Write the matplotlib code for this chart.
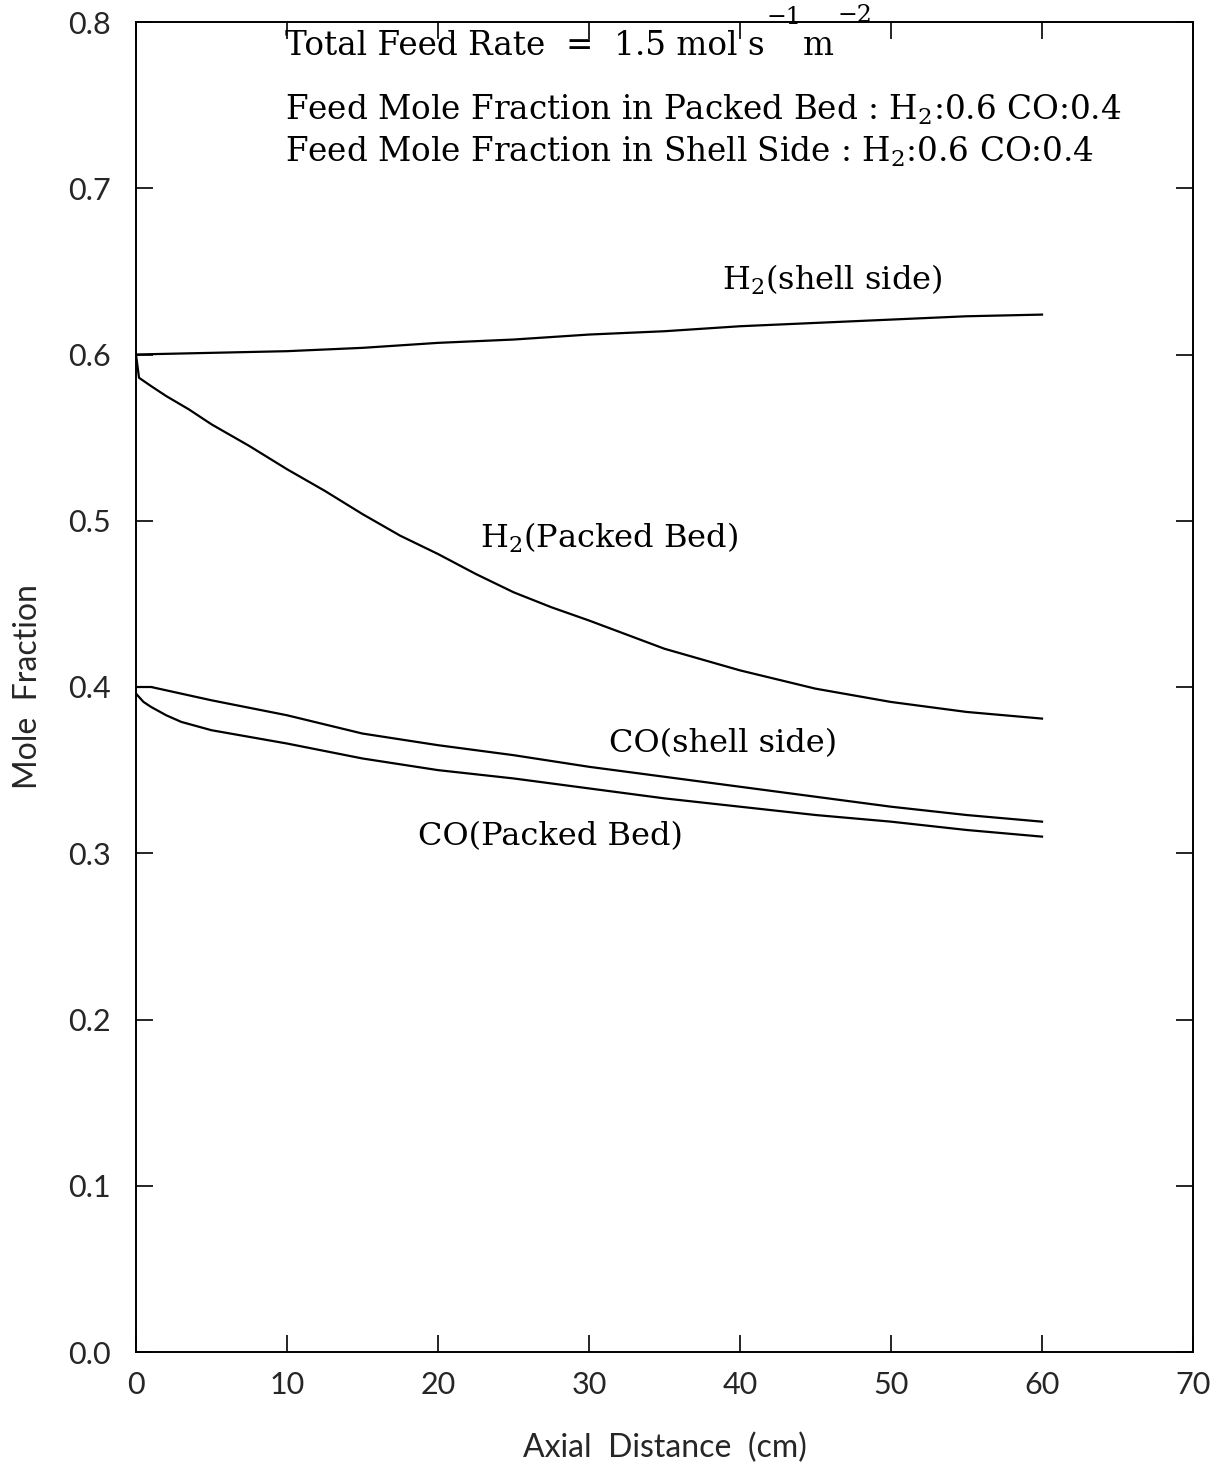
import matplotlib
matplotlib.use("Agg")
import matplotlib.pyplot as plt

# ---- data (axial distance in cm, mole fraction) ----
h2_shell_x = [0, 5, 10, 15, 20, 25, 30, 35, 40, 45, 50, 55, 60]
h2_shell_y = [0.600, 0.601, 0.602, 0.604, 0.607, 0.609, 0.612, 0.614,
              0.617, 0.619, 0.621, 0.623, 0.624]

h2_bed_x = [0, 0.2, 1, 2, 3.5, 5, 7.5, 10, 12.5, 15, 17.5, 20, 22.5, 25,
            27.5, 30, 35, 40, 45, 50, 55, 60]
h2_bed_y = [0.600, 0.586, 0.581, 0.575, 0.567, 0.558, 0.545, 0.531, 0.518,
            0.504, 0.491, 0.480, 0.468, 0.457, 0.448, 0.440, 0.423, 0.410,
            0.399, 0.391, 0.385, 0.381]

co_shell_x = [0, 1, 5, 10, 15, 20, 25, 30, 35, 40, 45, 50, 55, 60]
co_shell_y = [0.400, 0.400, 0.392, 0.383, 0.372, 0.365, 0.359, 0.352,
              0.346, 0.340, 0.334, 0.328, 0.323, 0.319]

co_bed_x = [0, 0.5, 1, 2, 3, 5, 7.5, 10, 15, 20, 25, 30, 35, 40, 45, 50,
            55, 60]
co_bed_y = [0.396, 0.391, 0.388, 0.383, 0.379, 0.374, 0.370, 0.366, 0.357,
            0.350, 0.345, 0.339, 0.333, 0.328, 0.323, 0.319, 0.314, 0.310]

x_ticks = [0, 10, 20, 30, 40, 50, 60, 70]
y_ticks = [0.0, 0.1, 0.2, 0.3, 0.4, 0.5, 0.6, 0.7, 0.8]

plt.rcParams["mathtext.fontset"] = "dejavuserif"
SERIF = "DejaVu Serif"
TICKFONT = dict(family="Lato", weight="normal", color="#262626")

fig = plt.figure(figsize=(12.18, 14.66), dpi=100)
ax = fig.add_axes([136 / 1218, 1 - 1352 / 1466,
                   (1193 - 136) / 1218, (1352 - 22) / 1466])

for xs, ys in [(h2_shell_x, h2_shell_y), (h2_bed_x, h2_bed_y),
               (co_shell_x, co_shell_y), (co_bed_x, co_bed_y)]:
    ax.plot(xs, ys, color="black", lw=1.6)

ax.set_xlim(0, 70)
ax.set_ylim(0, 0.8)
ax.set_xticks(x_ticks)
ax.set_yticks(y_ticks)
ax.set_xticklabels([f"{v:d}" for v in x_ticks], fontsize=22, **TICKFONT)
ax.set_yticklabels([f"{v:.1f}" for v in y_ticks], fontsize=22, **TICKFONT)
ax.tick_params(direction="in", length=12, width=1.2, top=True, right=True)
ax.tick_params(axis="x", pad=14)
ax.tick_params(axis="y", pad=18)
for s in ax.spines.values():
    s.set_linewidth(1.4)

ax.set_xlabel("Axial  Distance  (cm)", fontsize=23, labelpad=24, **TICKFONT)
ax.set_ylabel("Mole  Fraction", fontsize=23, labelpad=18, **TICKFONT)

# header text (units with raised exponents, chained to the line)
hdr = dict(fontsize=23.5, family=SERIF, va="baseline", ha="left")
sup = dict(fontsize=17, family=SERIF, textcoords="offset points")
t1 = ax.text(9.9, 0.780, "Total Feed Rate  =  1.5 mol s", **hdr)
s1 = ax.annotate("\u22121", xy=(1, 1), xycoords=t1, xytext=(1, 1),
                 ha="left", va="bottom", **sup)
m1 = ax.annotate("m", xy=(1, 0), xycoords=t1, xytext=(27, 0),
                 ha="left", va="bottom", fontsize=23.5, family=SERIF,
                 textcoords="offset points")
ax.annotate("\u22122", xy=(1, 1), xycoords=m1, xytext=(3, 2),
            ha="left", va="bottom", **sup)
ax.text(9.9, 0.741,
        r"Feed Mole Fraction in Packed Bed : H$_2$:0.6 CO:0.4", **hdr)
ax.text(9.9, 0.716,
        r"Feed Mole Fraction in Shell Side : H$_2$:0.6 CO:0.4", **hdr)

# curve labels
lab = dict(fontsize=23, family=SERIF, va="baseline", ha="left")
ax.text(38.8, 0.639, r"H$_2$(shell side)", **lab)
ax.text(22.8, 0.4836, r"H$_2$(Packed Bed)", **lab)
ax.text(31.3, 0.361, "CO(shell side)", **lab)
ax.text(18.7, 0.305, "CO(Packed Bed)", **lab)

fig.savefig("out.png", dpi=100)
